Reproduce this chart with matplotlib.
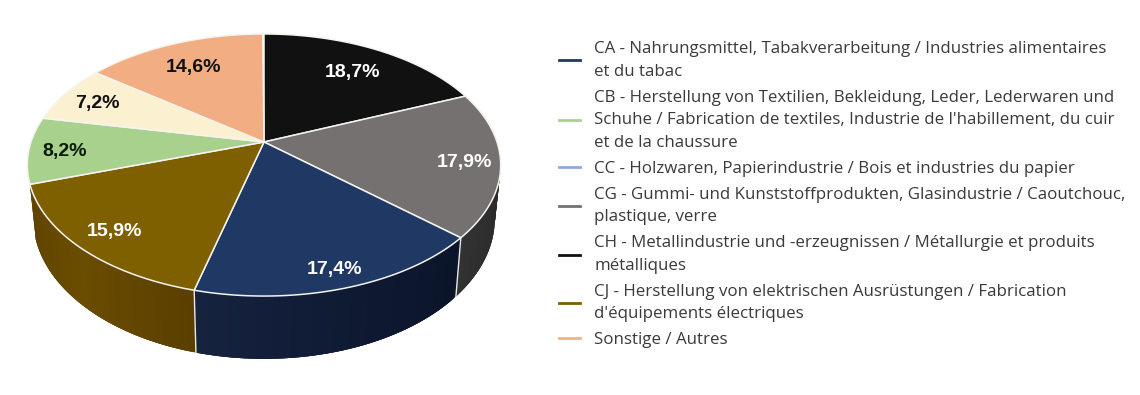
import numpy as np
import matplotlib
matplotlib.use("Agg")
import matplotlib.pyplot as plt
from matplotlib.colors import to_rgb
from matplotlib.lines import Line2D
from matplotlib.patches import Polygon

# ---- data (clockwise from 12 o'clock)
slice_names = ["CH", "CG", "CA", "CJ", "CB", "(ohne Legende)", "Sonstige"]
slice_values = [18.7, 17.9, 17.4, 15.9, 8.2, 7.2, 14.6]
slice_labels = ["18,7%", "17,9%", "17,4%", "15,9%", "8,2%", "7,2%", "14,6%"]

legend_labels = [
    "CA - Nahrungsmittel, Tabakverarbeitung / Industries alimentaires\net du tabac",
    "CB - Herstellung von Textilien, Bekleidung, Leder, Lederwaren und\nSchuhe / Fabrication de textiles, Industrie de l'habillement, du cuir\net de la chaussure",
    "CC - Holzwaren, Papierindustrie / Bois et industries du papier",
    "CG - Gummi- und Kunststoffprodukten, Glasindustrie / Caoutchouc,\nplastique, verre",
    "CH - Metallindustrie und -erzeugnissen / Métallurgie et produits\nmétalliques",
    "CJ - Herstellung von elektrischen Ausrüstungen / Fabrication\nd'équipements électriques",
    "Sonstige / Autres",
]

# ---- styles
slice_colors = ["#111111", "#767171", "#1f3864", "#7f6000", "#a9d18e", "#fbf0d0", "#f2ae82"]
label_colors = ["white", "white", "white", "white", "#0b1a05", "#111111", "#111111"]
label_radius = [0.76, 0.85, 0.88, 0.84, 0.85, 0.83, 0.76]
label_drop = 2.5
wall_colors = {
    1: ["#3c3a3a", "#2a2929", "#333232"],
    2: ["#0b1429", "#0f1a33", "#16233f"],
    3: ["#5a3f00", "#6b4d00", "#5f4300"],
}
legend_colors = ["#1f3864", "#a9d18e", "#8faadc", "#767171", "#111111", "#7f6000", "#f4b183"]

# ---- projection of the tilted disc onto the canvas (canvas units are pixels)
CX, CY, RX, RY, PERSP = 264.0, 142.0, 233.0, 127.0, 0.1756
BASE_SX, BASE_SY, BASE_DY = 0.975, 1.07, 52.0


def project(theta, r=1.0):
    x, y = r * np.sin(theta), r * np.cos(theta)
    w = 1 + PERSP * y
    return RX * x / w, -RY * y / w


def top(theta, r=1.0):
    px, py = project(theta, r)
    return np.column_stack([CX + px, CY + py])


def bottom(theta):
    px, py = project(theta)
    return np.column_stack([CX + BASE_SX * px, CY + BASE_DY + BASE_SY * py])


fig = plt.figure(figsize=(11.4, 3.95), dpi=100, facecolor="white")
ax = fig.add_axes([0, 0, 1, 1])
ax.set_xlim(0, 1140)
ax.set_ylim(395, 0)
ax.axis("off")

edges = np.radians(np.concatenate([[0], np.cumsum(slice_values)]) * 3.6)

# side wall, painted strip by strip; each strip runs on under the next so no seams show
for i, stops in wall_colors.items():
    t = np.linspace(edges[i], edges[i + 1], 70)
    a, b = top(t), bottom(t)
    rgb = np.array([to_rgb(c) for c in stops])
    f = np.linspace(0, 1, len(t) - 1)
    for k in range(len(t) - 1):
        col = [np.interp(f[k], np.linspace(0, 1, len(stops)), rgb[:, c]) for c in range(3)]
        stop = len(t) - 1 if k + 3 >= len(t) else k + 3
        ax.add_patch(Polygon(np.vstack([a[k:stop + 1], b[k:stop + 1][::-1]]), closed=True,
                             facecolor=col, edgecolor="none", lw=0, zorder=1 + k * 1e-3))

# white seams of the side wall
for i in (2, 3):
    seg = np.vstack([top(edges[i:i + 1]), bottom(edges[i:i + 1])])
    ax.plot(seg[:, 0], seg[:, 1], color="#e8e8e8", lw=1.0, zorder=2)

# top faces
for i, col in enumerate(slice_colors):
    t = np.linspace(edges[i], edges[i + 1], 120)
    pts = np.vstack([[CX, CY], top(t)])
    ax.add_patch(Polygon(pts, closed=True, facecolor=col, edgecolor="#f4f4f0",
                         lw=1.1, joinstyle="round", zorder=3))

# value labels
for i, txt in enumerate(slice_labels):
    mid = (edges[i] + edges[i + 1]) / 2
    p = top(np.array([mid]), label_radius[i])[0]
    ax.text(p[0], p[1] + label_drop, txt, ha="center", va="center", family="Liberation Sans",
            weight="bold", fontsize=14, color=label_colors[i], zorder=4)

# legend
handles = [Line2D([], [], color=c, lw=2.0) for c in legend_colors]
leg = ax.legend(handles, legend_labels, loc="upper left",
                bbox_to_anchor=(559 / 1140, 1 - 41 / 395),
                bbox_transform=fig.transFigure, frameon=False, borderpad=0, borderaxespad=0,
                prop={"family": "Open Sans", "size": 12.2}, labelcolor="#3a3a3a",
                handlelength=1.24, handletextpad=0.83, labelspacing=0.58, alignment="left")
for text in leg.get_texts():
    text.set_linespacing(1.56)

fig.savefig("out.png", dpi=100, facecolor="white")
